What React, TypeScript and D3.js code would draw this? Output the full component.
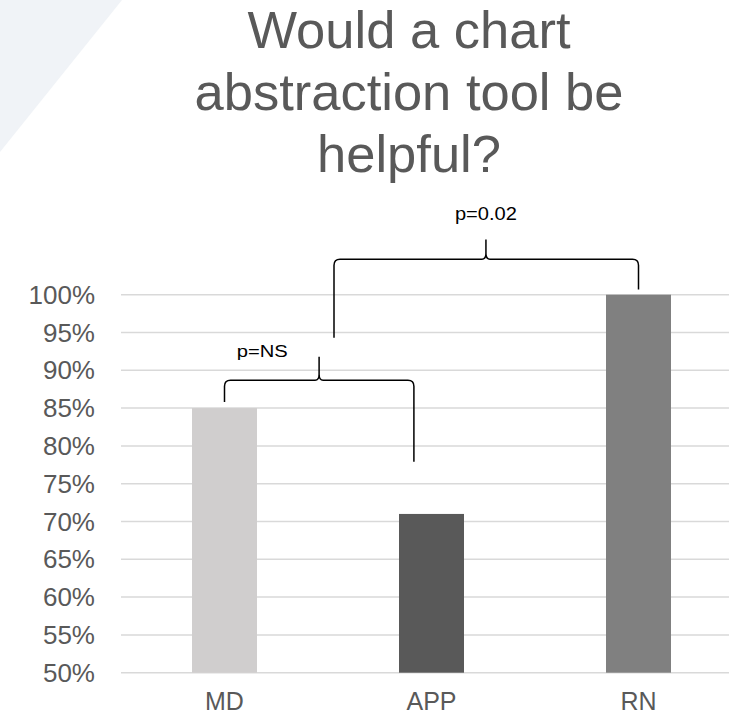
import React from "react";
import * as d3 from "d3";

// Share of respondents answering "yes", by group
const categories = ["MD", "APP", "RN"];
const values = [0.85, 0.71, 1.0];
const barColors = ["#d0cece", "#595959", "#808080"];

const yTicks = [0.5, 0.55, 0.6, 0.65, 0.7, 0.75, 0.8, 0.85, 0.9, 0.95, 1.0];

const titleLines = ["Would a chart", "abstraction tool be", "helpful?"];

// Significance braces, in category-index units (x) and axis values (y)
const braces = [
  { label: "p=NS", x1: 0, x2: 0.915, xTip: 0.457, yBar: 0.887, yLeft: 0.858, yRight: 0.779, yTip: 0.918, labelX: 0.182, labelY: 0.918, fontSize: 16, labelWidth: 51 },
  { label: "p=0.02", x1: 0.529, x2: 2.0, xTip: 1.263, yBar: 1.047, yLeft: 0.943, yRight: 1.007, yTip: 1.073, labelX: 1.263, labelY: 1.099, fontSize: 19, labelWidth: 62 },
];

const W = 729;
const H = 716;
const FONT = "'Liberation Sans', Arial, sans-serif";

export default function App() {
  const x = d3.scaleBand<string>().domain(categories).range([121, 742]).paddingInner(0.686).paddingOuter(0.343);
  const xi = d3.scaleLinear().domain([-0.5, 2.5]).range([121, 742]);
  const y = d3.scaleLinear().domain([0.5, 1.0]).range([672.7, 294.7]);
  const fmt = d3.format(".0%");

  const bracePath = (b: typeof braces[number]) => {
    const r = 6;
    const X1 = xi(b.x1), X2 = xi(b.x2), XT = xi(b.xTip);
    const YB = y(b.yBar), YL = y(b.yLeft), YR = y(b.yRight), YT = y(b.yTip);
    return [
      `M${X1},${YL} V${YB + r} Q${X1},${YB} ${X1 + r},${YB} H${XT - 4} Q${XT},${YB} ${XT},${YB - r} V${YT}`,
      `M${XT},${YB - r} Q${XT},${YB} ${XT + 4},${YB} H${X2 - r} Q${X2},${YB} ${X2},${YB + r} V${YR}`,
    ].join(" ");
  };

  return (
    <svg width={W} height={H} style={{ position: "absolute", left: 0, top: 0, background: "#ffffff" }} fontFamily={FONT}>
      {/* decorative corner wedge */}
      <polygon points={`0,0 122,0 0,152`} fill="#f0f3f7" />

      <g fill="#595959" fontSize={52.5} textAnchor="middle">
        {titleLines.map((t, i) => (
          <text key={t} x={409} y={48 + i * 62}>{t}</text>
        ))}
      </g>

      {/* gridlines */}
      <g stroke="#d9d9d9" strokeWidth={1.5}>
        {yTicks.map((t) => (
          <line key={t} x1={121} x2={W} y1={y(t)} y2={y(t)} />
        ))}
      </g>

      {/* y axis labels */}
      <g fill="#595959" fontSize={26} textAnchor="end">
        {yTicks.map((t) => (
          <text key={t} x={95} y={y(t)} dy="0.35em">{fmt(t)}</text>
        ))}
      </g>

      {/* bars */}
      {categories.map((c, i) => (
        <rect key={c} x={x(c)} width={x.bandwidth()} y={y(values[i])} height={y(0.5) - y(values[i])} fill={barColors[i]} />
      ))}

      {/* category labels */}
      <g fill="#595959" fontSize={25} textAnchor="middle">
        {categories.map((c) => (
          <text key={c} x={(x(c) ?? 0) + x.bandwidth() / 2} y={710}>{c}</text>
        ))}
      </g>

      {/* significance braces */}
      {braces.map((b) => (
        <g key={b.label}>
          <path d={bracePath(b)} fill="none" stroke="#000000" strokeWidth={1.5} />
          <text x={xi(b.labelX)} y={y(b.labelY)} fontSize={b.fontSize} textAnchor="middle" fill="#000000"
            textLength={b.labelWidth} lengthAdjust="spacingAndGlyphs">{b.label}</text>
        </g>
      ))}
    </svg>
  );
}
